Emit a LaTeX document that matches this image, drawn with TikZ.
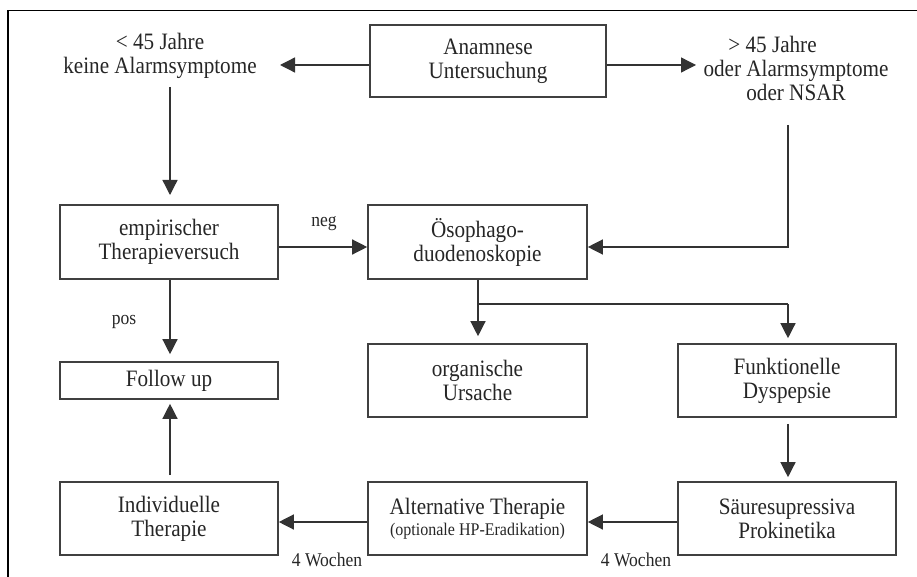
\documentclass[tikz,border=0pt]{standalone}
\usepackage{fontspec}
\setmainfont{Liberation Serif}[FakeStretch=0.9]
\usetikzlibrary{arrows.meta}
\tikzset{
  box/.style={draw=black!75, line width=1.6pt, rectangle, align=center, inner sep=0pt,
    font=\fontsize{23.5}{24}\selectfont, text=black!85},
  lbl/.style={align=center, inner sep=0pt, font=\fontsize{23.5}{24}\selectfont, text=black!85},
  small/.style={inner sep=0pt, font=\fontsize{19.5}{20}\selectfont, text=black!85},
  conn/.style={draw=black!80, line width=1.3pt},
  arr/.style={conn, -{Triangle[length=15pt,width=15pt]}},
  wide/.style={minimum width=218pt},
}
\begin{document}
\begin{tikzpicture}[x=1pt,y=-1pt]
\useasboundingbox (0,0) rectangle (917,577);
\draw[black, line width=1.5pt] (8,577) -- (8,10.5) -- (917,10.5);

\node[box, minimum width=236pt, minimum height=72pt] (anam) at (488,61) {Anamnese\\Untersuchung};
\node[lbl] (young) at (160,56) {< 45 Jahre\\keine Alarmsymptome};
\node[lbl] (old) at (796,68) {> 45 Jahre\hspace*{2em}\\oder Alarmsymptome\\oder NSAR};

\node[box, wide, minimum height=74pt] (emp) at (169,242) {empirischer\\Therapieversuch};
\node[box, minimum width=219pt, minimum height=74pt] (oeso) at (477.5,242) {Ösophago-\\duodenoskopie};
\node[box, wide, minimum height=37pt] (follow) at (169,380.5) {Follow up};
\node[box, minimum width=219pt, minimum height=73pt] (org) at (477.5,380.5) {organische\\Ursache};
\node[box, wide, minimum height=73pt] (funk) at (787,380.5) {Funktionelle\\Dyspepsie};
\node[box, wide, minimum height=73pt] (indiv) at (169,518.5) {Individuelle\\Therapie};
\node[box, minimum width=219pt, minimum height=73pt] (alt) at (477.5,518.5) {Alternative Therapie\\[-3pt]{\fontsize{17.8}{19}\selectfont (optionale HP-Eradikation)}};
\node[box, wide, minimum height=73pt] (saeure) at (787,518.5) {Säuresupressiva\\Prokinetika};

\node[small] (neg) at (324,224) {neg};
\node[small] (pos) at (124,322) {pos};
\node[small] (w1) at (327,560) {4 Wochen};
\node[small] (w2) at (636,560) {4 Wochen};

\coordinate (lt) at (280,65);
\coordinate (rt) at (696,65);
\coordinate (lv1) at (170,87);
\coordinate (lv2) at (170,195);
\coordinate (rv1) at (788,125);
\coordinate (rv2) at (788,247);
\coordinate (ob) at (478,304);
\coordinate (obr) at (788,304);

\draw[arr] ([yshift=-4pt]anam.west) -- (lt);
\draw[arr] ([yshift=-4pt]anam.east) -- (rt);
\draw[arr] (lv1) -- (lv2);
\draw[arr] (rv1) -- (rv2) -- ([yshift=-5pt]oeso.east);
\draw[arr] ([yshift=-5pt]emp.east) -- ([yshift=-5pt]oeso.west);
\draw[arr, shorten >=7pt] ([xshift=1pt]emp.south) -- ([xshift=1pt]follow.north);
\draw[conn] ([xshift=0.5pt]oeso.south) -- (ob) -- (obr);
\draw[arr] (ob) -- ([yshift=7pt]org.north -| ob);
\draw[arr] (obr) -- ([yshift=5pt]funk.north -| obr);
\draw[arr, shorten <=6pt, shorten >=4pt] ([xshift=1pt]funk.south) -- ([xshift=1pt]saeure.north);
\draw[arr] ([yshift=-3.5pt]saeure.west) -- ([yshift=-3.5pt]alt.east);
\draw[arr] ([yshift=-3.5pt]alt.west) -- ([yshift=-3.5pt]indiv.east);
\draw[arr, shorten <=6pt, shorten >=4pt] ([xshift=1pt]indiv.north) -- ([xshift=1pt]follow.south);
\end{tikzpicture}
\end{document}
